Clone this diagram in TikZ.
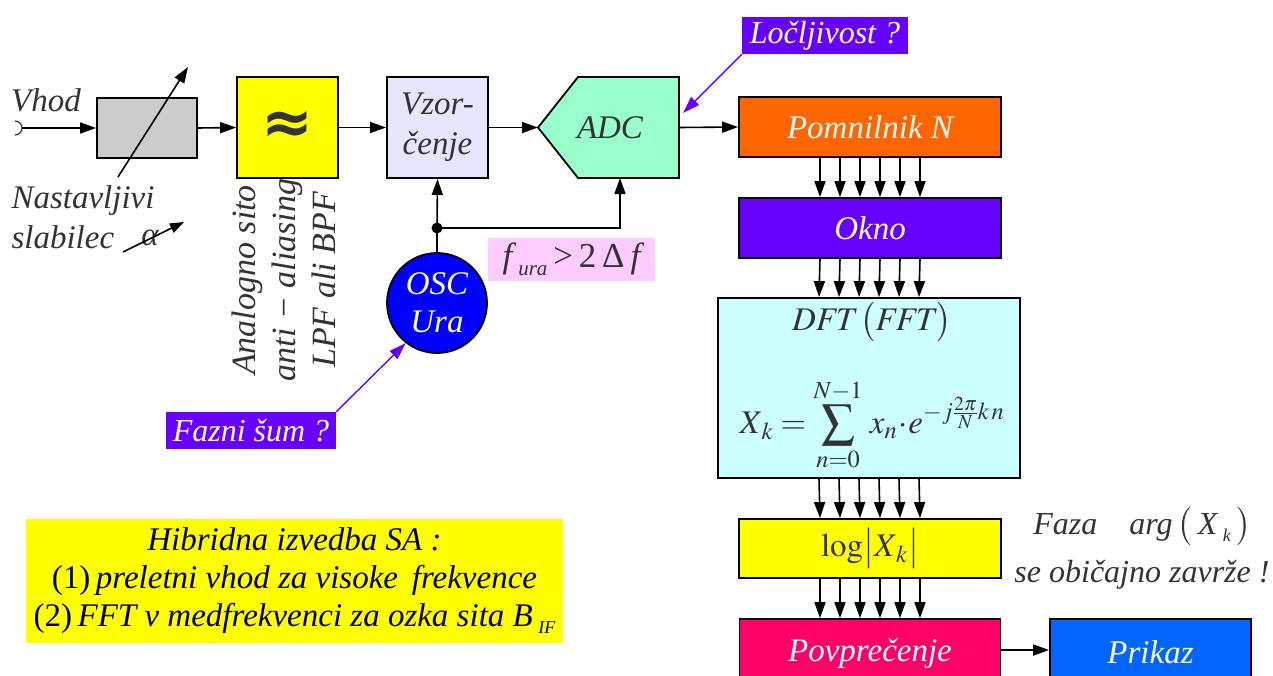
\documentclass[tikz,border=0pt]{standalone}
\usepackage{amsmath}
\usepackage{mathptmx}
\usepackage{fontspec}
\setmainfont{Liberation Serif}
\newfontfamily\djv{DejaVu Sans}
\usetikzlibrary{arrows.meta}
\definecolor{tgray}{HTML}{333333}
\definecolor{cgray}{HTML}{CCCCCC}
\definecolor{cyel}{HTML}{FFFF00}
\definecolor{clav}{HTML}{E6E6FF}
\definecolor{cadc}{HTML}{99FFCC}
\definecolor{corange}{HTML}{FF6600}
\definecolor{vio}{HTML}{6600FF}
\definecolor{ccyan}{HTML}{CCFFFF}
\definecolor{cpink}{HTML}{FF0066}
\definecolor{cblue}{HTML}{0066FF}
\definecolor{cosc}{HTML}{0000FF}
\definecolor{cplab}{HTML}{FFCCFF}
\tikzset{
  box/.style={draw=black, line width=1.8pt, inner sep=0pt, align=center},
  big/.style={font=\fontsize{33}{40}\selectfont\itshape},
  arr/.style={line width=1.6pt, -{Triangle[length=16pt,width=11pt]}},
  parr/.style={draw=vio, line width=1.4pt, -{Triangle[length=17pt,width=11pt]}},
  lab/.style={fill=vio, text=white, inner sep=0pt, font=\fontsize{32}{38}\selectfont\itshape},
}
\begin{document}
\begin{tikzpicture}[x=1pt,y=-1pt]
\useasboundingbox (0,0) rectangle (1273,675);
% input
\node[big, text=tgray, anchor=center] (vhod) at (46,100) {Vhod};
\draw[line width=1.2pt, tgray] (15,121) arc (-90:90:7);
\coordinate (in) at (22,128);
\node[box, fill=cgray, minimum width=100pt, minimum height=60pt] (att) at (147,128) {};
\draw[arr] (in) -- (att.west);
\coordinate (d1) at (118,177);
\coordinate (d2) at (188,67);
\draw[arr] (d1) -- (d2);
\node[big, text=tgray, anchor=west, align=left] (nast) at (8,217) {Nastavljivi\\slabilec};
\node[big, text=tgray] (alpha) at (150,238) {α};
\coordinate (a1) at (123,252);
\coordinate (a2) at (184,222);
\draw[line width=1.6pt, -{Triangle[length=14pt,width=10pt]}] (a1) -- (a2);
% filter
\node[box, fill=cyel, minimum width=101pt, minimum height=101pt] (lpf) at (287.5,127.5) {\djv\bfseries\fontsize{62}{62}\selectfont\textcolor{tgray}{≈}};
\draw[arr] (att.east) -- (lpf.west);
\node[text=tgray, rotate=90, align=center, font=\fontsize{34}{40}\selectfont\itshape] (lpftxt) at (284,280) {Analogno sito\\anti − aliasing\\LPF ali BPF};
% sampling
\node[box, fill=clav, minimum width=101pt, minimum height=101pt, text=tgray, big] (vz) at (437.5,127.5) {Vzor-\\čenje};
\draw[arr] (lpf.east) -- (vz.west);
% ADC
\draw[line width=1.8pt, fill=cadc, line join=miter] (538,127.5) -- (578,77) -- (679,77) -- (679,178) -- (578,178) -- cycle;
\coordinate (adcin) at (538,127.5);
\coordinate (adcout) at (679,127.5);
\coordinate (adcbot) at (620,178);
\node[big, text=tgray] (adc) at (610,128) {ADC};
\draw[arr] (vz.east) -- (adcin);
% memory chain
\node[box, fill=corange, minimum width=262pt, minimum height=60pt, text=white, big] (pom) at (870,127) {Pomnilnik N};
\draw[arr] (adcout) -- (pom.west);
\node[box, fill=vio, minimum width=262pt, minimum height=60pt, text=white, big] (okno) at (870,228) {Okno};
\node[box, fill=ccyan, minimum width=302pt, minimum height=180pt] (dft) at (869,388) {};
\node[text=tgray, font=\fontsize{33}{40}\selectfont] (dfttxt) at (872,322) {$\mathit{DFT}\,\bigl(\mathit{FFT}\bigr)$};
\node[text=tgray, font=\fontsize{33}{40}\selectfont] (form) at (872,425) {$\displaystyle X_{\,k}=\sum_{n=0}^{N-1}\, x_{n}\!\cdot\! e^{-j\frac{2\pi}{N}k\,n}$};
\node[box, fill=cyel, minimum width=262pt, minimum height=59pt, text=tgray, font=\fontsize{33}{40}\selectfont] (log) at (870,548.5) {$\log\bigl|X_{\,k}\bigr|$};
\node[box, fill=cpink, minimum width=261pt, minimum height=70pt, text=white, big] (pov) at (870,654) {\raisebox{4pt}{Povprečenje}};
\node[box, fill=cblue, minimum width=201pt, minimum height=70pt, text=white, big] (pri) at (1150.5,654) {\raisebox{4pt}{Prikaz}};
\draw[arr] ([yshift=4pt]pov.east) -- ([yshift=4pt]pri.west);
\foreach \o in {-50,-30,-10,10,30,50}{
  \draw[arr] ([xshift=\o pt]pom.south) -- ([xshift=\o pt]okno.north);
  \draw[arr] ([xshift=\o pt]okno.south) -- ([xshift=\o pt]dft.north);
  \draw[arr] ([xshift=\o pt]dft.south) -- ([xshift=\o pt]log.north);
  \draw[arr] ([xshift=\o pt]log.south) -- ([xshift=\o pt]pov.north);
}
% oscillator
\node[circle, draw=black, line width=1.8pt, fill=cosc, minimum size=100pt, inner sep=0pt, text=white, align=center, font=\fontsize{33}{38}\selectfont\itshape] (osc) at (437,303) {OSC\\Ura};
\coordinate (j) at (437,228);
\fill (j) circle (5.5pt);
\draw[line width=1.6pt] (osc.north) -- (j);
\draw[arr] (j) -- (vz.south);
\draw[arr] (j) -| (adcbot);
\node[fill=cplab, minimum width=167pt, minimum height=43pt, inner sep=0pt, text=tgray, font=\fontsize{35}{40}\selectfont] (fura) at (571.5,259.5) {\itshape f\,\raisebox{-8pt}{\fontsize{21}{21}\selectfont ura}\upshape\,>\,2\,Δ\,\itshape f};
% labels
\node[lab, minimum width=166pt, minimum height=37pt] (locl) at (825,35.5) {Ločljivost ?};
\coordinate (adcpt) at (683,113);
\draw[parr] (locl.south west) -- (adcpt);
\node[lab, minimum width=170pt, minimum height=37pt] (fazni) at (251,430.5) {Fazni šum ?};
\draw[parr] (fazni.north east) -- (osc.232);
% notes
\node[fill=cyel, minimum width=537pt, minimum height=124pt, inner sep=0pt, align=center, text=black, font=\fontsize{33}{38}\selectfont] (note) at (294.5,581) {\itshape Hibridna izvedba SA :\\ \upshape(1)\,\itshape preletni vhod za visoke\, frekvence\\ \upshape(2)\,\itshape FFT v medfrekvenci za ozka sita B\,\raisebox{-7pt}{\fontsize{18}{18}\selectfont IF}};
\node[text=tgray, align=center, font=\fontsize{32}{48}\selectfont\itshape] (faza) at (1142,548) {Faza\quad arg\,$\bigl($\,X\,\raisebox{-7pt}{\fontsize{18}{18}\selectfont k}\,$\bigr)$\\ se običajno zavrže !};
\end{tikzpicture}
\end{document}
